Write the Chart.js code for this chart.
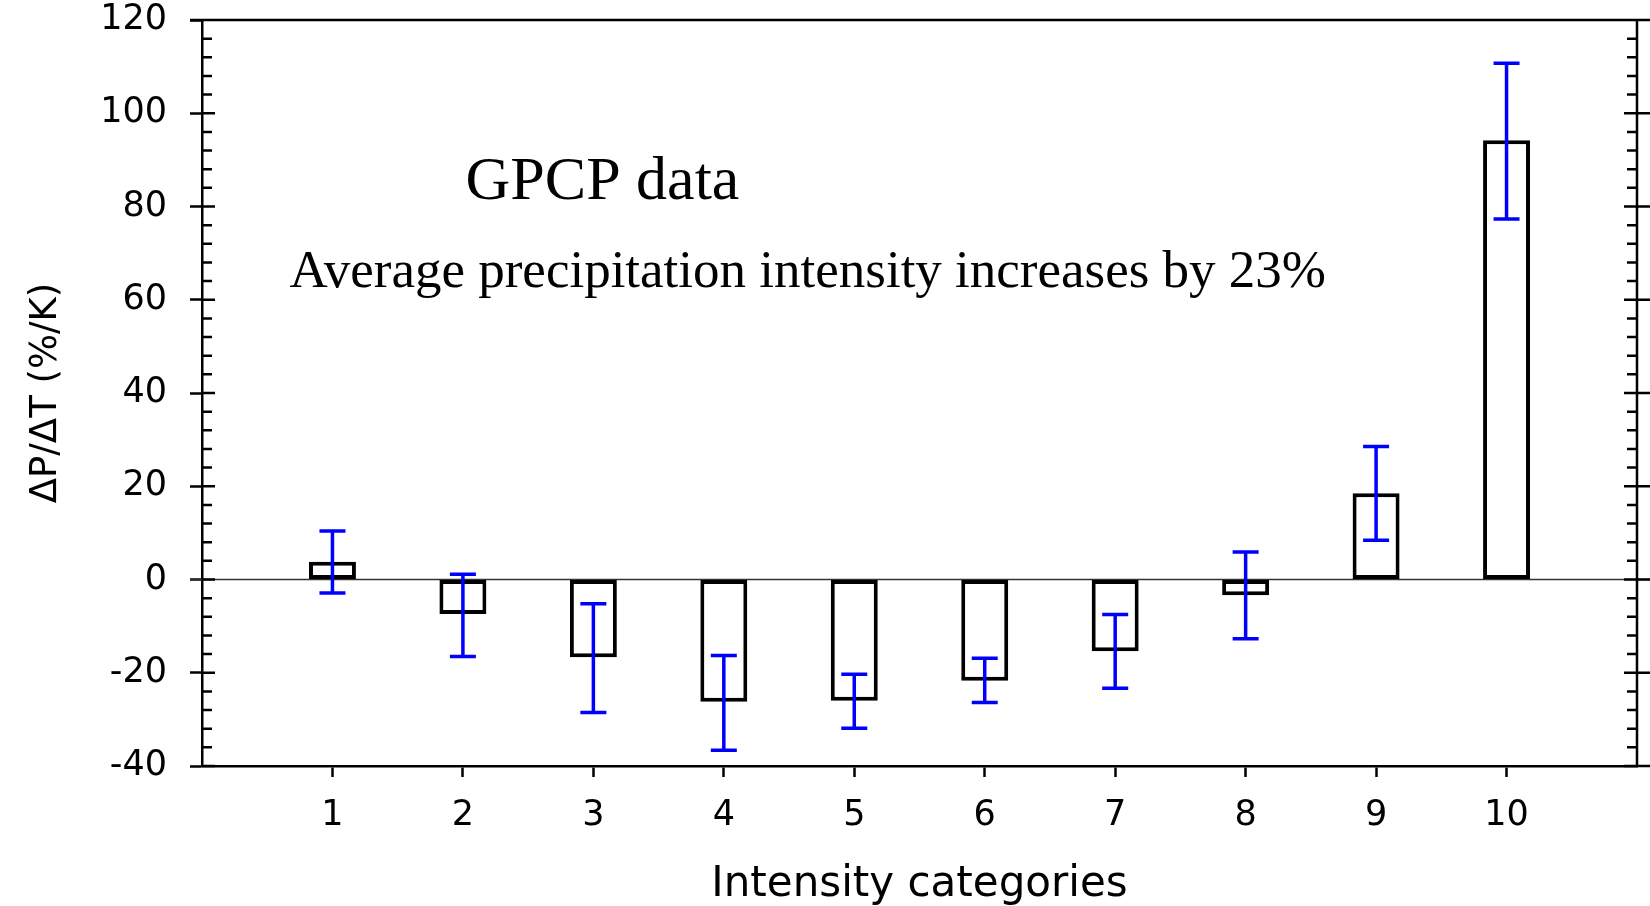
<!DOCTYPE html>
<html>
<head>
<meta charset="utf-8">
<title>GPCP data</title>
<script src="https://cdn.jsdelivr.net/npm/chart.js@4.4.1/dist/chart.umd.min.js"></script>
<style>
    html, body { margin: 0; padding: 0; background: #fff; }
    #kutu { width: 1650px; height: 906px; }
</style>
</head>
<body>
<div id="kutu"><canvas id="grafik" width="1650" height="906"></canvas></div>
<script>
// === Veri ===
const kategoriler = [1, 2, 3, 4, 5, 6, 7, 8, 9, 10];
const degerler = [3.8, -7.4, -16.7, -26.2, -26.0, -21.7, -15.4, -3.4, 18.5, 94.2];
const hataUst = [10.4, 1.1, -5.2, -16.3, -20.3, -16.9, -7.5, 5.9, 28.5, 110.7];
const hataAlt = [-2.9, -16.5, -28.5, -36.6, -31.9, -26.4, -23.3, -12.7, 8.4, 77.3];
const yEtiketleri = [-40, -20, 0, 20, 40, 60, 80, 100, 120];

// Grafik içindeki yazılar (konum veri biriminde)
const notlar = [
    { metin: 'GPCP data', x: 2.02, y: 81.7, boyut: 62 },
    { metin: 'Average precipitation intensity increases by 23%', x: 0.67, y: 62.8, boyut: 53 }
];

document.addEventListener('DOMContentLoaded', () => {
    Chart.defaults.font.family = '"DejaVu Sans", sans-serif';
    Chart.defaults.color = '#000';
    grafigiCiz();
});

// Çerçeve, ara çentikler, sıfır çizgisi, hata çubukları ve yazılar
const cerceveEklentisi = {
    id: 'cerceve',
    beforeDatasetsDraw(chart) {
        const { ctx, chartArea, scales } = chart;
        const y0 = scales.y.getPixelForValue(0);
        ctx.save();
        ctx.strokeStyle = '#333';
        ctx.lineWidth = 1.7;
        ctx.beginPath();
        ctx.moveTo(chartArea.left - 12, y0);
        ctx.lineTo(chart.width, y0);
        ctx.stroke();
        ctx.restore();
    },
    afterDatasetsDraw(chart) {
        const { ctx, scales } = chart;
        ctx.save();
        ctx.strokeStyle = '#0000ff';
        ctx.lineWidth = 3.5;
        kategoriler.forEach((k, i) => {
            const x = scales.x.getPixelForValue(k);
            const ust = scales.y.getPixelForValue(hataUst[i]);
            const alt = scales.y.getPixelForValue(hataAlt[i]);
            ctx.beginPath();
            ctx.moveTo(x, ust);
            ctx.lineTo(x, alt);
            ctx.moveTo(x - 13, ust);
            ctx.lineTo(x + 13, ust);
            ctx.moveTo(x - 13, alt);
            ctx.lineTo(x + 13, alt);
            ctx.stroke();
        });
        ctx.restore();
    },
    afterDraw(chart) {
        const { ctx, chartArea, scales } = chart;
        const { left, right, top, bottom } = chartArea;
        ctx.save();
        ctx.strokeStyle = '#000';
        ctx.lineWidth = 2.5;
        ctx.beginPath();
        // üst ve sağ kenar
        ctx.moveTo(left - 12, top);
        ctx.lineTo(chart.width, top);
        ctx.moveTo(right, top);
        ctx.lineTo(right, bottom);
        ctx.moveTo(right, bottom);
        ctx.lineTo(chart.width, bottom);
        // ara çentikler (her 4 birimde)
        for (let v = scales.y.min; v <= scales.y.max; v += 4) {
            const y = scales.y.getPixelForValue(v);
            const ana = v % 20 === 0;
            ctx.moveTo(left, y);
            ctx.lineTo(left + (ana ? 13 : 10), y);
            ctx.moveTo(right, y);
            ctx.lineTo(right - (ana ? 13 : 10), y);
            if (ana) {
                ctx.moveTo(right, y);
                ctx.lineTo(chart.width, y);
            }
        }
        ctx.stroke();

        // yazılar
        ctx.fillStyle = '#000';
        ctx.textBaseline = 'alphabetic';
        ctx.textAlign = 'left';
        notlar.forEach(not => {
            ctx.font = not.boyut + 'px "Liberation Serif", "Times New Roman", serif';
            ctx.fillText(not.metin, scales.x.getPixelForValue(not.x), scales.y.getPixelForValue(not.y));
        });
        ctx.restore();
    }
};

function grafigiCiz() {
    const ctx = document.getElementById('grafik').getContext('2d');
    window.grafik = new Chart(ctx, {
        type: 'bar',
        data: {
            datasets: [{
                data: kategoriler.map((k, i) => ({ x: k, y: degerler[i] })),
                backgroundColor: '#fff',
                borderColor: '#000',
                borderWidth: 4,
                borderSkipped: false,
                barPercentage: 0.36,
                categoryPercentage: 1
            }]
        },
        options: {
            responsive: false,
            animation: false,
            layout: { padding: { top: 20, right: 13, left: 0, bottom: 0 } },
            plugins: {
                legend: { display: false },
                tooltip: { enabled: false }
            },
            scales: {
                x: {
                    type: 'linear',
                    min: 0,
                    max: 11,
                    offset: false,
                    afterBuildTicks: (scale) => {
                        scale.ticks = kategoriler.map(v => ({ value: v }));
                    },
                    afterFit: (scale) => { scale.height = 140; },
                    grid: { offset: false, drawOnChartArea: false, drawTicks: true, tickLength: 11, tickColor: '#000', tickWidth: 2.5 },
                    border: { display: true, color: '#000', width: 2.5 },
                    ticks: { font: { size: 35 }, padding: 18, maxRotation: 0, autoSkip: false },
                    title: { display: true, text: 'Intensity categories', font: { size: 42, lineHeight: 1.0 }, padding: { top: 0, bottom: 0 } }
                },
                y: {
                    min: -40,
                    max: 120,
                    afterBuildTicks: (scale) => {
                        scale.ticks = yEtiketleri.map(v => ({ value: v }));
                    },
                    afterFit: (scale) => {
                        scale.width = 202;
                        // etiket taşması için eklenen boşluğu kaldır
                        scale.paddingTop = 0;
                        scale.paddingBottom = 0;
                    },
                    grid: { drawOnChartArea: false, drawTicks: true, tickLength: 12, tickColor: '#000', tickWidth: 2.5 },
                    border: { display: true, color: '#000', width: 2.5 },
                    ticks: { font: { size: 35 }, padding: 23 },
                    title: { display: true, text: 'ΔP/ΔT (%/K)', font: { size: 37 }, padding: { top: 24, bottom: 0 } }
                }
            }
        },
        plugins: [cerceveEklentisi]
    });
}
</script>
</body>
</html>
